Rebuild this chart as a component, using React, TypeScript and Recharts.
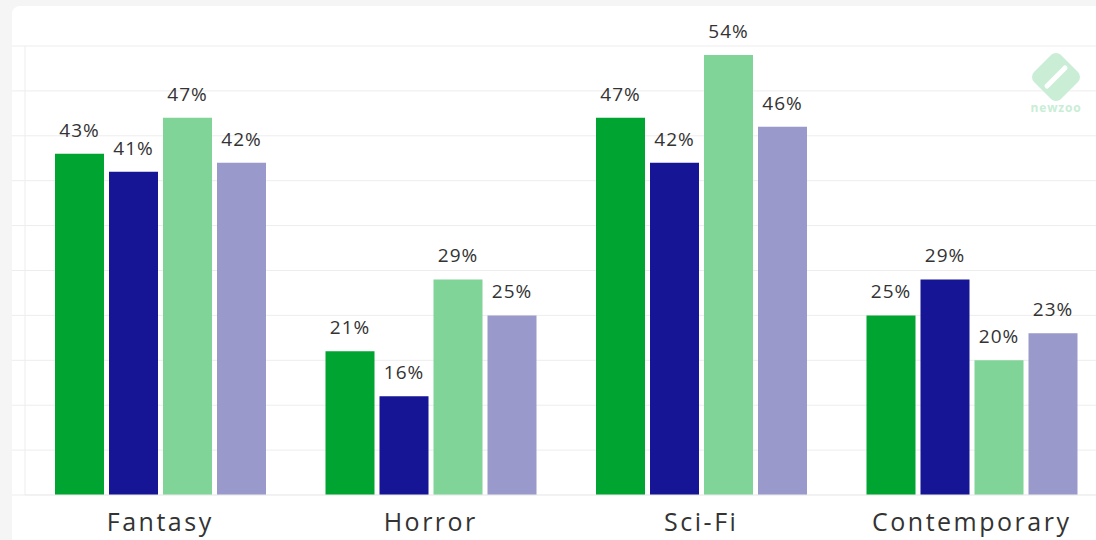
import { BarChart, Bar, XAxis, YAxis, CartesianGrid, LabelList } from 'recharts'

const genres = ['Fantasy', 'Horror', 'Sci-Fi', 'Contemporary']
const seriesA = [43, 21, 47, 25]
const seriesB = [41, 16, 42, 29]
const seriesC = [47, 29, 54, 20]
const seriesD = [42, 25, 46, 23]
const yTicks = [5, 10, 15, 20, 25, 30, 35, 40, 45, 50, 55]

const series = [
  { key: 'a', values: seriesA, color: '#00a430' },
  { key: 'b', values: seriesB, color: '#151596' },
  { key: 'c', values: seriesC, color: '#80d498' },
  { key: 'd', values: seriesD, color: '#9999cc' },
]

const data = genres.map((genre, i) => {
  const row: Record<string, string | number> = { genre }
  series.forEach((s) => {
    row[s.key] = s.values[i]
  })
  return row
})

const font = '"Open Sans", sans-serif'
const gridColor = '#ededed'

// y-axis has no visible labels, only the short lines that continue the grid
const EmptyTick = () => <g />

function Logo() {
  return (
    <svg width={64} height={70} style={{ position: 'absolute', left: 1024, top: 46 }}>
      <g transform="translate(32 31) rotate(45)">
        <rect x={-19} y={-19} width={38} height={38} rx={7} fill="#c9edd5" />
      </g>
      <path d="M23 40 L41 22" stroke="#ffffff" strokeWidth={5} strokeLinecap="round" />
      <text
        x={32}
        y={66}
        textAnchor="middle"
        fontFamily={font}
        fontSize={12}
        fontWeight={700}
        fill="#c9edd5"
        letterSpacing={0.8}
      >
        newzoo
      </text>
    </svg>
  )
}

export default function App() {
  return (
    <div style={{ position: 'fixed', inset: 0, overflow: 'hidden', background: '#f5f5f5' }}>
      <div
        style={{
          position: 'absolute',
          left: 12,
          top: 6,
          width: 1110,
          height: 560,
          background: '#fff',
          borderRadius: 8,
        }}
      />
      <div style={{ position: 'absolute', left: 12, top: 6 }}>
        <BarChart
          width={1095}
          height={534}
          data={data}
          margin={{ top: 40, right: 0, bottom: 0, left: 0 }}
          barSize={49}
          barGap={5}
        >
          <CartesianGrid vertical={false} stroke={gridColor} />
          <YAxis
            domain={[5, 55]}
            ticks={yTicks}
            allowDataOverflow
            width={13}
            tick={EmptyTick}
            tickSize={13}
            tickLine={{ stroke: gridColor }}
            axisLine={{ stroke: gridColor }}
          />
          <XAxis
            dataKey="genre"
            height={45}
            axisLine={{ stroke: gridColor }}
            tickLine={false}
            tickSize={0}
            tickMargin={18}
            tick={{ fill: '#333333', fontSize: 25, fontFamily: font, letterSpacing: 2.5 }}
          />
          {series.map((s) => (
            <Bar key={s.key} dataKey={s.key} fill={s.color} isAnimationActive={false}>
              <LabelList
                dataKey={s.key}
                position="top"
                offset={17}
                formatter={(v: any) => `${v}%`}
                fill="#333333"
                fontSize={19}
                fontFamily={font}
                letterSpacing={1}
              />
            </Bar>
          ))}
        </BarChart>
      </div>
      <Logo />
    </div>
  )
}
